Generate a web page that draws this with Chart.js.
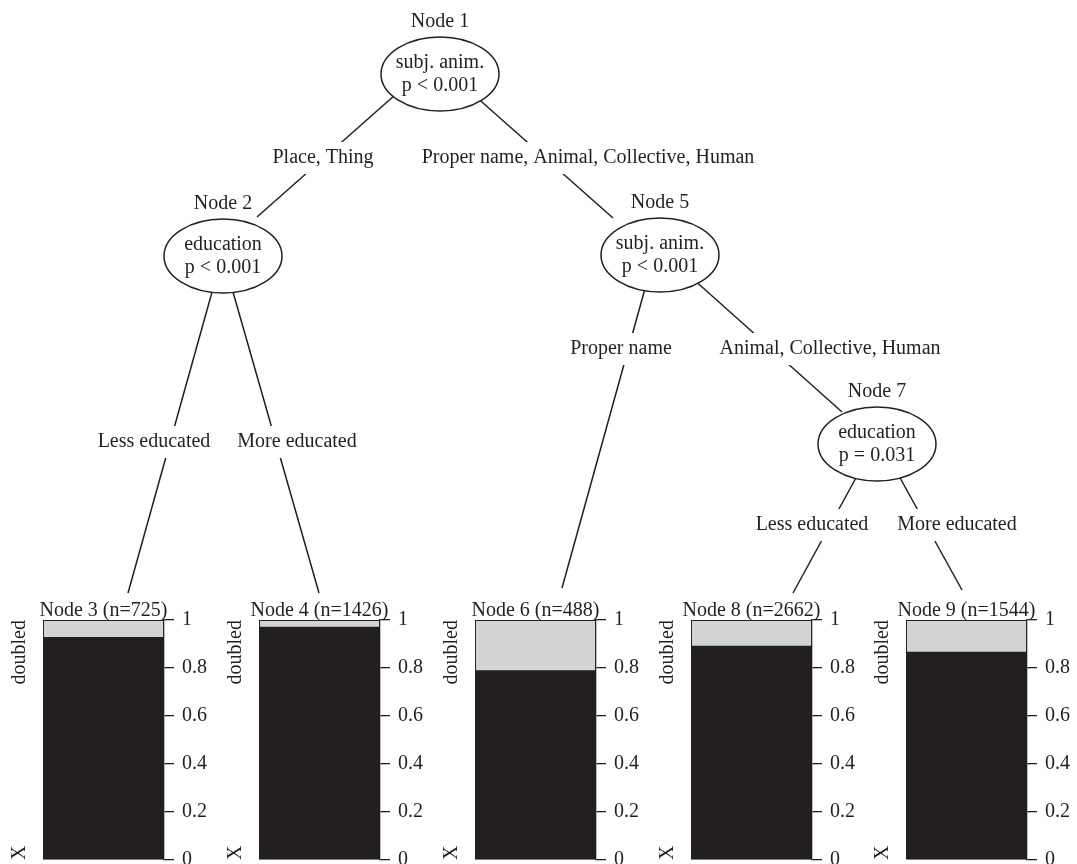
<!DOCTYPE html>
<html>
<head>
<meta charset="utf-8">
<script src="https://cdn.jsdelivr.net/npm/chart.js@4"></script>
<style>
  html, body { margin: 0; padding: 0; background: #fff; width: 1077px; height: 864px; overflow: hidden; }
  #tree { position: absolute; left: 0; top: 0; }
  .panel { position: absolute; }
</style>
</head>
<body>
<canvas id="tree" width="1077" height="864"></canvas>
<script>
// terminal nodes
const nodeIds = [3, 4, 6, 8, 9];
const nodeN = [725, 1426, 488, 2662, 1544];
const propX = [0.925, 0.968, 0.787, 0.889, 0.864];
const propDoubled = [0.075, 0.032, 0.213, 0.111, 0.136];
const levels = ["X", "doubled"];
const tickValues = [0, 0.2, 0.4, 0.6, 0.8, 1];
const tickLabels = ["0", "0.2", "0.4", "0.6", "0.8", "1"];

// inner nodes
const innerIds = [1, 2, 5, 7];
const innerVars = ["subj. anim.", "education", "subj. anim.", "education"];
const innerP = ["p < 0.001", "p < 0.001", "p < 0.001", "p = 0.031"];

// edges (parent -> child) and their labels
const edgeLabels = [
  "Place, Thing",
  "Proper name, Animal, Collective, Human",
  "Less educated",
  "More educated",
  "Proper name",
  "Animal, Collective, Human",
  "Less educated",
  "More educated"
];

// layout (pixels)
const innerPos = [[440, 74], [223, 256], [660, 255], [877, 444]];
const ellRx = 59, ellRy = 37;
const edgeStart = [[395, 95], [474, 95], [214, 285], [231, 285], [646, 285], [692, 278], [857, 476], [899, 476]];
const edgeEnd = [[257, 217], [613, 218], [128, 593], [319, 593], [562, 588], [842, 412], [793, 593], [962, 590]];
const labelPos = [[323, 158], [588, 158], [154, 442], [297, 442], [621, 349], [830, 349], [812, 525], [957, 525]];
const boxLeft = [43, 259, 475, 691, 906];
const boxW = 121;

const FONT = '"Liberation Serif", "Times New Roman", serif';
const ink = "#231f20";
const gray = "#d1d3d4";

Chart.defaults.font.family = FONT;
Chart.defaults.font.size = 20;
Chart.defaults.color = ink;

const treePlugin = {
  id: "treePlugin",
  afterDatasetsDraw(chart) {
    const ctx = chart.ctx;
    const sx = chart.scales.x, sy = chart.scales.y;
    ctx.save();
    ctx.font = "20px " + FONT;
    ctx.textAlign = "center";
    ctx.textBaseline = "middle";
    // edge labels with white background
    edgeLabels.forEach((t, i) => {
      const x = sx.getPixelForValue(labelPos[i][0]);
      const y = sy.getPixelForValue(labelPos[i][1]);
      const w = ctx.measureText(t).width + 6;
      ctx.fillStyle = "#fff";
      ctx.fillRect(x - w / 2, y - 16, w, 32);
      ctx.fillStyle = ink;
      ctx.fillText(t, x, y);
    });
    // inner nodes
    innerIds.forEach((id, i) => {
      const x = sx.getPixelForValue(innerPos[i][0]);
      const y = sy.getPixelForValue(innerPos[i][1]);
      ctx.beginPath();
      ctx.ellipse(x, y, ellRx, ellRy, 0, 0, Math.PI * 2);
      ctx.fillStyle = "#fff";
      ctx.fill();
      ctx.lineWidth = 1.5;
      ctx.strokeStyle = ink;
      ctx.stroke();
      ctx.fillStyle = ink;
      ctx.fillText("Node " + id, x, y - 52);
      ctx.fillText(innerVars[i], x, y - 11);
      ctx.fillText(innerP[i], x, y + 12);
    });
    ctx.restore();
  }
};

new Chart(document.getElementById("tree"), {
  type: "scatter",
  data: {
    datasets: edgeLabels.map((t, i) => ({
      label: t,
      data: [{ x: edgeStart[i][0], y: edgeStart[i][1] }, { x: edgeEnd[i][0], y: edgeEnd[i][1] }],
      showLine: true,
      pointRadius: 0,
      borderColor: ink,
      borderWidth: 1.5
    }))
  },
  options: {
    responsive: false,
    animation: false,
    events: [],
    layout: { padding: 0 },
    plugins: { legend: { display: false }, tooltip: { enabled: false } },
    scales: {
      x: { type: "linear", min: 0, max: 1077, display: false },
      y: { type: "linear", min: 0, max: 864, reverse: true, display: false }
    }
  },
  plugins: [treePlugin]
});

function panelPlugin(i) {
  return {
    id: "panelText" + i,
    afterDraw(chart) {
      const ctx = chart.ctx;
      const a = chart.chartArea;
      const sy = chart.scales.y;
      ctx.save();
      ctx.font = "20px " + FONT;
      ctx.fillStyle = ink;
      ctx.textAlign = "center";
      ctx.textBaseline = "alphabetic";
      ctx.fillText("Node " + nodeIds[i] + " (n=" + nodeN[i] + ")", (a.left + a.right) / 2, a.top - 4);
      // level names on the left
      const lx = a.left - 23;
      ctx.textBaseline = "middle";
      ctx.save();
      ctx.translate(lx, sy.getPixelForValue(0));
      ctx.rotate(-Math.PI / 2);
      ctx.textAlign = "left";
      ctx.fillText(levels[0], 0, 0);
      ctx.restore();
      ctx.save();
      ctx.translate(lx, sy.getPixelForValue(1));
      ctx.rotate(-Math.PI / 2);
      ctx.textAlign = "right";
      ctx.fillText(levels[1], 0, 0);
      ctx.restore();
      ctx.restore();
    }
  };
}

nodeIds.forEach((id, i) => {
  const canvas = document.createElement("canvas");
  canvas.className = "panel";
  canvas.width = 216;
  canvas.height = 290;
  canvas.style.left = (boxLeft[i] - 45) + "px";
  canvas.style.top = "590px";
  document.body.appendChild(canvas);
  new Chart(canvas, {
    type: "bar",
    data: {
      labels: [""],
      datasets: [
        {
          label: levels[0],
          data: [propX[i]],
          backgroundColor: ink,
          borderColor: ink,
          borderWidth: 1.3,
          borderSkipped: false,
          barPercentage: 1,
          categoryPercentage: 1
        },
        {
          label: levels[1],
          data: [propDoubled[i]],
          backgroundColor: gray,
          borderColor: ink,
          borderWidth: 1.3,
          borderSkipped: false,
          barPercentage: 1,
          categoryPercentage: 1
        }
      ]
    },
    options: {
      responsive: false,
      animation: false,
      events: [],
      layout: { padding: { left: 45, top: 30, bottom: 20, right: 0 } },
      plugins: { legend: { display: false }, tooltip: { enabled: false } },
      scales: {
        x: { stacked: true, display: false },
        y: {
          stacked: true,
          position: "right",
          min: 0,
          max: 1,
          afterBuildTicks: (s) => {
            s.ticks = tickValues.map((v) => ({ value: v }));
          },
          afterFit: (s) => {
            s.width = 50;
          },
          ticks: {
            callback: (v, idx) => tickLabels[idx],
            padding: 8,
            color: ink,
            font: { size: 20 }
          },
          grid: { drawOnChartArea: false, tickLength: 10, color: ink, lineWidth: 1.3 },
          border: { display: true, color: ink, width: 1.3 }
        }
      }
    },
    plugins: [panelPlugin(i)]
  });
});
</script>
</body>
</html>
